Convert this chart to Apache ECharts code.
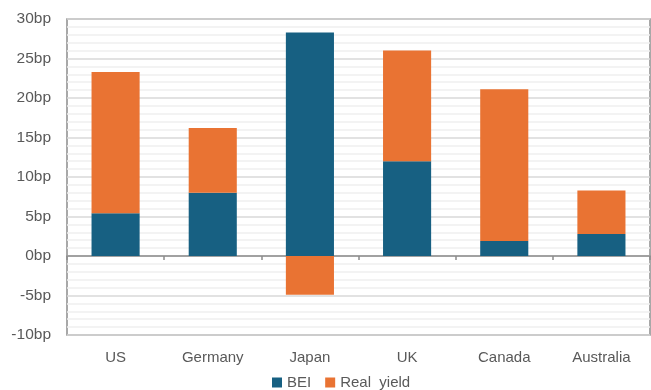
<!DOCTYPE html>
<html>
<head>
<meta charset="utf-8">
<script src="https://cdn.jsdelivr.net/npm/echarts@6/dist/echarts.min.js"></script>
<style>
html,body{margin:0;padding:0;background:#fff;}
#chart{width:651px;height:390px;}
</style>
</head>
<body>
<div id="chart"></div>
<script>
var categories = ['US', 'Germany', 'Japan', 'UK', 'Canada', 'Australia'];
var beiValues = [5.4, 8.0, 28.3, 12.0, 1.9, 2.8];
var realYieldValues = [17.9, 8.2, -4.9, 14.0, 19.2, 5.5];
var seriesNames = ['BEI', 'Real  yield'];
var yMin = -10, yMax = 30, yStep = 5;

var FONT = "'Liberation Sans', Arial, sans-serif";
var TXT = '#595959';

var chart = echarts.init(document.getElementById('chart'), null, {renderer: 'canvas'});
chart.setOption({
  animation: false,
  backgroundColor: '#ffffff',
  grid: {
    left: 67, right: 1, top: 19, bottom: 55,
    show: true, borderColor: '#8c8c8c', borderWidth: 1.5, backgroundColor: 'transparent'
  },
  legend: {
    data: seriesNames,
    left: 267, top: 370,
    itemWidth: 10, itemHeight: 10, itemGap: 14,
    icon: 'rect',
    textStyle: {fontFamily: FONT, fontSize: 15, color: TXT}
  },
  xAxis: [{
    type: 'category',
    data: categories,
    position: 'bottom',
    axisLine: {show: false, onZero: false},
    axisTick: {show: false},
    axisLabel: {fontFamily: FONT, fontSize: 15, color: TXT, margin: 15},
    splitLine: {show: false}
  }, {
    type: 'category',
    data: categories,
    position: 'top',
    axisLine: {show: true, onZero: true, lineStyle: {color: '#8c8c8c', width: 1.5}},
    axisTick: {show: true, inside: true, length: 4, lineStyle: {color: '#8c8c8c', width: 1.5}},
    axisLabel: {show: false},
    splitLine: {show: false}
  }],
  yAxis: {
    type: 'value',
    min: yMin, max: yMax, interval: yStep,
    axisLine: {show: false},
    axisTick: {show: false},
    axisLabel: {fontFamily: FONT, fontSize: 15.5, color: TXT, margin: 16,
      formatter: function (v) { return v + 'bp'; }},
    splitLine: {show: true, lineStyle: {color: '#d9d9d9', width: 1.5}},
    minorTick: {show: false, splitNumber: 5},
    minorSplitLine: {show: true, lineStyle: {color: '#efefef', width: 1.5}}
  },
  series: [{
    name: seriesNames[0],
    type: 'bar',
    stack: 'total',
    xAxisIndex: 0,
    barWidth: '49.5%',
    itemStyle: {color: '#176082'},
    data: beiValues
  }, {
    name: seriesNames[1],
    type: 'bar',
    stack: 'total',
    xAxisIndex: 0,
    barWidth: '49.5%',
    itemStyle: {color: '#E97333'},
    data: realYieldValues
  }]
});
</script>
</body>
</html>
